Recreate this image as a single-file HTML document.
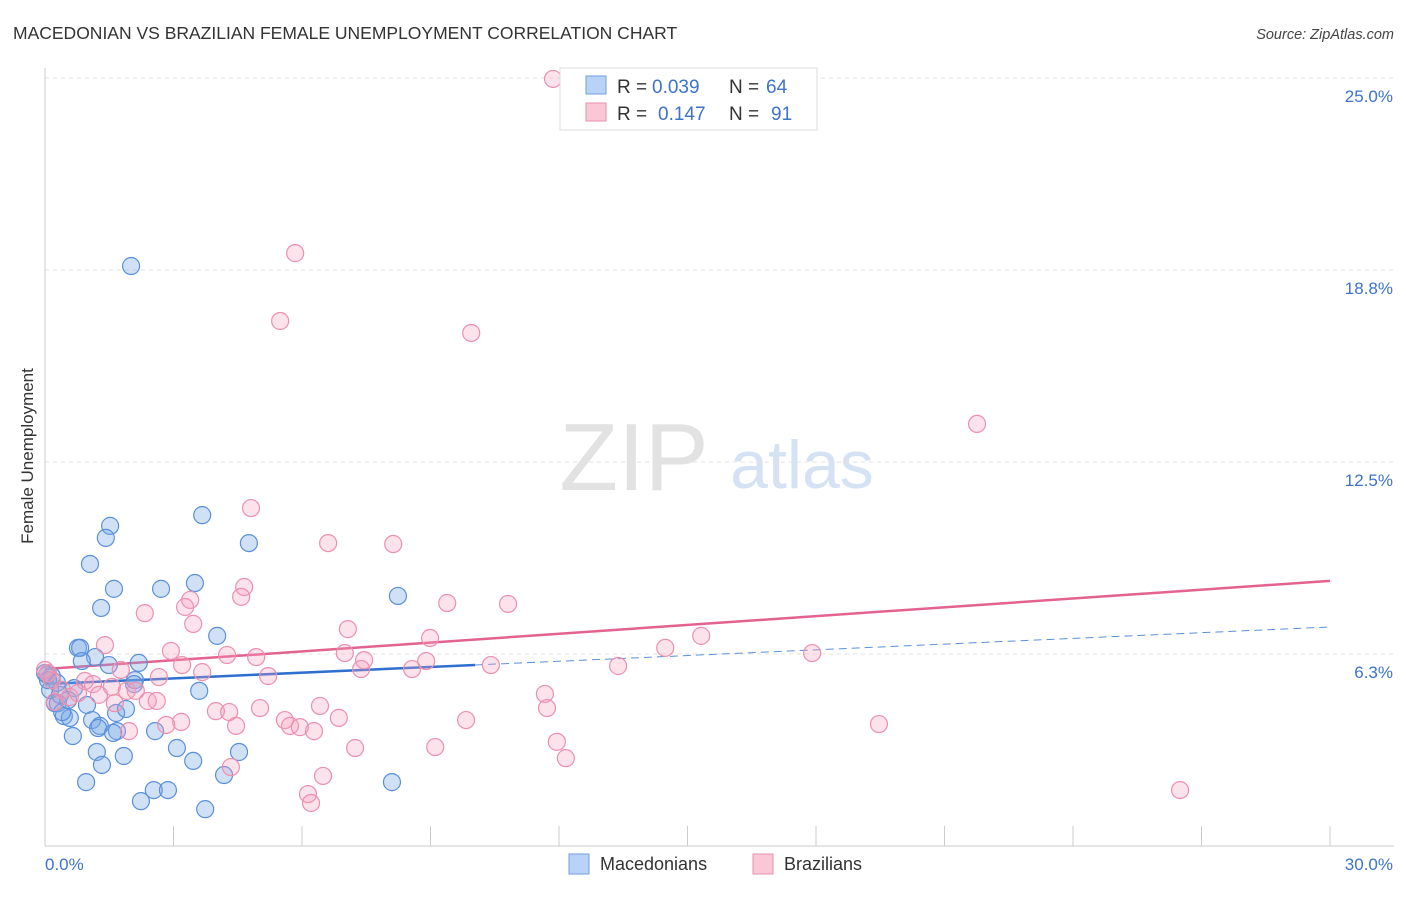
<!DOCTYPE html>
<html><head><meta charset="utf-8"><style>
body{margin:0;background:#fff;font-family:"Liberation Sans",sans-serif;}
svg text{font-family:"Liberation Sans",sans-serif;}
</style></head><body>
<svg id="chart" width="1406" height="892" xmlns="http://www.w3.org/2000/svg">
<text x="13" y="39" font-size="17.5" fill="#333">MACEDONIAN VS BRAZILIAN FEMALE UNEMPLOYMENT CORRELATION CHART</text>
<text x="1394" y="39" font-size="14.5" fill="#444" font-style="italic" text-anchor="end">Source: ZipAtlas.com</text>
<g>
<text x="634" y="490" font-size="96" fill="#e2e2e2" font-family="Liberation Serif,serif" text-anchor="middle">ZIP</text>
<text x="802" y="488" font-size="68" fill="#d5e2f3" text-anchor="middle">atlas</text>
</g>
<g id="grid"></g>
<g id="axes"></g>
<g id="lines"></g>
<g id="points"></g>
<text transform="translate(33,456) rotate(-90)" font-size="17" fill="#333" text-anchor="middle">Female Unemployment</text>
<g>
<rect x="560" y="68" width="257" height="62" fill="#fff" stroke="#ddd"/>
<rect x="586" y="76" width="20" height="18" fill="#b8d3f5" stroke="#6f9fde"/>
<rect x="586" y="103" width="20" height="18" fill="#f9c7d6" stroke="#e890ac"/>
<text x="617" y="93" font-size="19" fill="#333">R =</text>
<text x="652" y="93" font-size="19" fill="#3d73cc">0.039</text>
<text x="729" y="93" font-size="19" fill="#333">N =</text>
<text x="766" y="93" font-size="19" fill="#3d73cc">64</text>
<text x="617" y="120" font-size="19" fill="#333">R =</text>
<text x="658" y="120" font-size="19" fill="#3d73cc">0.147</text>
<text x="729" y="120" font-size="19" fill="#333">N =</text>
<text x="771" y="120" font-size="19" fill="#3d73cc">91</text>
</g>
<g>
<rect x="569" y="854" width="20" height="20" fill="#b8d3f5" stroke="#6f9fde"/>
<text x="600" y="870" font-size="18" fill="#333">Macedonians</text>
<rect x="753" y="854" width="20" height="20" fill="#f9c7d6" stroke="#e890ac"/>
<text x="784" y="870" font-size="18" fill="#333">Brazilians</text>
</g>
</svg>
<script>
const xTicks=[0,3,6,9,12,15,18,21,24,27,30];
const yTicks=[6.25,12.5,18.75,25];
const yTickLabels=["6.3%","12.5%","18.8%","25.0%"];
const xLabels=["0.0%","30.0%"];
const macX=[2.01,1.52,1.42,3.67,4.76,1.05,1.61,2.71,3.50,1.31,8.24,4.02,0.77,0.82,1.17,0.86,1.49,2.19,0.05,0.16,0.68,2.10,2.08,3.60,0.23,0.30,0.98,0.44,0.58,0.40,1.10,1.66,1.89,1.28,1.24,1.68,1.59,2.57,0.65,1.21,1.84,3.08,4.53,1.33,3.46,4.18,0.96,8.10,2.54,2.87,2.24,3.74,0.12,0.35,0.54,0.28,0.07,0.00];
const macY=[18.88,10.42,10.03,10.77,9.86,9.18,8.37,8.37,8.56,7.75,8.14,6.84,6.45,6.45,6.15,6.02,5.89,5.96,5.57,5.53,5.14,5.40,5.27,5.05,4.65,4.65,4.59,4.23,4.17,4.36,4.10,4.33,4.46,3.91,3.84,3.74,3.68,3.74,3.58,3.06,2.93,3.19,3.06,2.64,2.77,2.31,2.08,2.08,1.82,1.82,1.46,1.20,5.08,4.92,4.75,5.31,5.40,5.63];
const braX=[11.86,5.84,5.49,9.95,21.76,4.81,6.61,8.13,4.65,4.58,3.39,3.27,9.39,10.81,2.33,3.46,7.07,8.99,15.32,1.40,2.94,14.48,17.91,4.25,4.93,7.00,7.45,8.90,3.20,3.67,1.77,8.57,7.38,10.41,13.38,0.07,0.16,0.93,1.12,1.56,2.66,5.21,1.26,1.91,2.40,2.61,1.63,2.12,11.67,11.72,3.99,4.30,5.02,6.42,5.60,6.86,9.83,19.47,3.18,2.83,4.46,5.72,5.95,6.28,1.96,7.24,9.11,11.95,12.16,4.34,6.49,6.14,6.21,26.50,0.40,0.58,0.77,0.23,0.00];
const braY=[24.97,19.30,17.09,16.70,13.74,11.00,9.86,9.83,8.43,8.11,8.01,7.78,7.91,7.88,7.58,7.23,7.06,6.77,6.84,6.54,6.35,6.45,6.28,6.22,6.15,6.28,6.05,6.02,5.89,5.66,5.73,5.76,5.76,5.89,5.86,5.63,5.40,5.37,5.27,5.18,5.50,5.53,4.92,5.05,4.72,4.72,4.65,5.05,4.95,4.49,4.39,4.36,4.49,4.56,4.10,4.17,4.10,3.97,4.04,3.94,3.91,3.91,3.87,3.74,3.74,3.19,3.22,3.39,2.86,2.57,2.28,1.69,1.40,1.82,5.08,4.85,4.98,4.69,5.73];
const macTrend=[5.27,0.062];
const braTrend=[5.76,0.0957];
const macSolidEnd=10.04;
const X0=45,X1=1330,Y0=846,YPX=30.72;
const sx=v=>X0+(X1-X0)*v/30;
const sy=v=>Y0-v*YPX;
const NS="http://www.w3.org/2000/svg";
function mk(tag,attrs,parent){const e=document.createElementNS(NS,tag);for(const k in attrs)e.setAttribute(k,attrs[k]);document.getElementById(parent).appendChild(e);return e;}
yTicks.forEach((t,i)=>{
 const g=mk('line',{x1:X0,x2:1394,y1:sy(t),y2:sy(t),stroke:'#e2e2e2','stroke-dasharray':'4,4'},'grid');
 
 
 const l=mk('text',{x:1393,y:sy(t)+24,'font-size':17,fill:'#3d73cc','text-anchor':'end'},'grid');
 l.textContent=yTickLabels[i];
 
 
});
const ax=mk('line',{x1:X0,x2:X0,y1:68,y2:Y0,stroke:'#ccc'},'axes');


const bx=mk('line',{x1:X0,x2:1394,y1:Y0,y2:Y0,stroke:'#ccc'},'axes');


xTicks.forEach(t=>{
 const k=mk('line',{x1:sx(t),x2:sx(t),y1:826,y2:Y0,stroke:'#ccc'},'axes');
 
 
});
const xl0=mk('text',{x:45,y:870,'font-size':17,fill:'#3d73cc'},'axes');xl0.textContent=xLabels[0];


const xl1=mk('text',{x:1393,y:870,'font-size':17,fill:'#3d73cc','text-anchor':'end'},'axes');xl1.textContent=xLabels[1];


macX.forEach((x,i)=>{
 const c=mk('circle',{cx:sx(x),cy:sy(macY[i]),r:8.5,fill:'rgba(120,170,230,0.35)',stroke:'#5a90da','stroke-width':1.2},'points');
 
 
});
braX.forEach((x,i)=>{
 const c=mk('circle',{cx:sx(x),cy:sy(braY[i]),r:8.5,fill:'rgba(245,160,190,0.3)',stroke:'#ec90ae','stroke-width':1.2},'points');
 
 
});
const f=(t,x)=>t[0]+t[1]*x;
const bl=mk('line',{x1:sx(0),y1:sy(f(braTrend,0)),x2:sx(30),y2:sy(f(braTrend,30)),stroke:'#e4628f','stroke-width':2.5},'lines');


const ml=mk('line',{x1:sx(0),y1:sy(f(macTrend,0)),x2:sx(macSolidEnd),y2:sy(f(macTrend,macSolidEnd)),stroke:'#2e6fd0','stroke-width':2.5},'lines');


const md=mk('line',{x1:sx(macSolidEnd),y1:sy(f(macTrend,macSolidEnd)),x2:sx(30),y2:sy(f(macTrend,30)),stroke:'#5a90da','stroke-width':1,'stroke-dasharray':'8,5'},'lines');


</script>
</body></html>
